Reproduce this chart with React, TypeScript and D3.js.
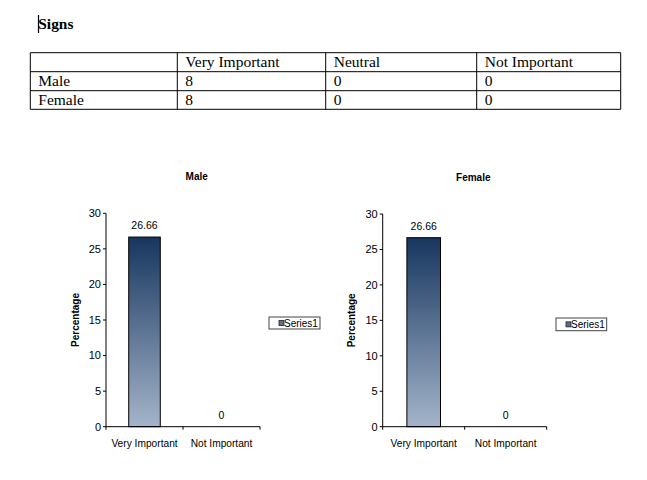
import React from 'react';
import * as d3 from 'd3';

const categories = ['Very Important', 'Not Important'];
const maleValues = [26.66, 0];
const femaleValues = [26.66, 0];
const yTicks = [0, 5, 10, 15, 20, 25, 30];

const tableHeader = ['', 'Very Important', 'Neutral', 'Not Important'];
const tableRowLabels = ['Male', 'Female'];
const tableValues = [
  [8, 0, 0],
  [8, 0, 0],
];

const sans = '"Liberation Sans", Arial, sans-serif';
const serif = '"Liberation Serif", "Times New Roman", serif';

interface PanelProps {
  id: string;
  title: string;
  values: number[];
  left: number;
  right: number;
  top: number;
  bottom: number;
  titleX: number;
  yLabelX: number;
  legend: { x: number; y: number; w: number; h: number };
}

function BarPanel(props: PanelProps) {
  const { id, title, values, left, right, top, bottom, titleX, yLabelX, legend } = props;
  const x = d3
    .scaleBand<string>()
    .domain(categories)
    .range([left, right])
    .paddingInner(0.59)
    .paddingOuter(0.295);
  const y = d3.scaleLinear().domain([0, 30]).range([bottom, top]);
  const step = x.step();
  const gradId = `grad-${id}`;

  return (
    <g>
      <defs>
        <linearGradient id={gradId} x1="0" y1="0" x2="0" y2="1">
          <stop offset="0%" stopColor="#17365f" />
          <stop offset="100%" stopColor="#a4b4ca" />
        </linearGradient>
      </defs>
      <text x={titleX} y={top - 33} textAnchor="middle" fontFamily={sans} fontSize={10} fontWeight="bold">
        {title}
      </text>
      <text
        transform={`translate(${yLabelX + 3.5}, ${(top + bottom) / 2}) rotate(-90)`}
        textAnchor="middle"
        fontFamily={sans}
        fontSize={10}
        fontWeight="bold"
      >
        Percentage
      </text>

      {categories.map((c, i) => {
        const v = values[i];
        const bx = x(c)!;
        const bw = x.bandwidth();
        return (
          <g key={c}>
            {v > 0 && (
              <rect
                x={bx}
                y={y(v)}
                width={bw}
                height={y(0) - y(v)}
                fill={`url(#${gradId})`}
                stroke="#000"
                strokeWidth={1}
              />
            )}
            <text x={bx + bw / 2} y={y(v) - 8} textAnchor="middle" fontFamily={sans} fontSize={10.5}>
              {v}
            </text>
            <text x={bx + bw / 2} y={bottom + 20.5} textAnchor="middle" fontFamily={sans} fontSize={10.2}>
              {c}
            </text>
          </g>
        );
      })}

      {/* axes */}
      <line x1={left} y1={top} x2={left} y2={bottom} stroke="#000" />
      <line x1={left} y1={bottom} x2={right} y2={bottom} stroke="#000" />
      {yTicks.map((t) => (
        <g key={t}>
          <line x1={left - 3} y1={y(t)} x2={left} y2={y(t)} stroke="#000" />
          <text x={left - 5} y={y(t)} dy="0.35em" textAnchor="end" fontFamily={sans} fontSize={11}>
            {t}
          </text>
        </g>
      ))}
      {d3.range(categories.length + 1).map((i) => (
        <line key={i} x1={left + i * step} y1={bottom} x2={left + i * step} y2={bottom + 3} stroke="#000" />
      ))}

      {/* legend */}
      <rect x={legend.x} y={legend.y} width={legend.w} height={legend.h} fill="#fff" stroke="#444" strokeWidth={1} />
      <rect
        x={legend.x + 10}
        y={legend.y + legend.h / 2 - 2.5}
        width={5}
        height={5}
        fill="#5b6f8e"
        stroke="#222"
        strokeWidth={0.8}
      />
      <text x={legend.x + 15} y={legend.y + legend.h / 2} dy="0.36em" fontFamily={sans} fontSize={10}>
        Series1
      </text>
    </g>
  );
}

export default function App() {
  const colEdges = [30.3, 177.3, 325.7, 476.7, 620.7];
  const rowEdges = [52.7, 71.7, 90.7, 109.3];
  const rows = [tableHeader, ...tableRowLabels.map((r, i) => [r, ...tableValues[i].map(String)])];

  return (
    <svg
      width={647}
      height={480}
      style={{ position: 'absolute', left: 0, top: 0, background: '#fff' }}
    >
      <rect x={0} y={0} width={647} height={480} fill="#fff" />
      <line x1={38.5} y1={15} x2={38.5} y2={33} stroke="#000" strokeWidth={1.2} />
      <text x={38.3} y={29} fontFamily={serif} fontSize={15.4} fontWeight="bold">
        Signs
      </text>

      {/* table */}
      <g>
        {rowEdges.map((ry) => (
          <line key={ry} x1={colEdges[0]} y1={ry} x2={colEdges[colEdges.length - 1]} y2={ry} stroke="#000" />
        ))}
        {colEdges.map((cx) => (
          <line key={cx} x1={cx} y1={rowEdges[0]} x2={cx} y2={rowEdges[rowEdges.length - 1]} stroke="#000" />
        ))}
        {rows.map((row, ri) =>
          row.map((cell, ci) => (
            <text
              key={`${ri}-${ci}`}
              x={colEdges[ci] + 8}
              y={rowEdges[ri] + 14}
              fontFamily={serif}
              fontSize={15.5}
            >
              {cell}
            </text>
          ))
        )}
      </g>

      <BarPanel
        id="male"
        title="Male"
        values={maleValues}
        left={106}
        right={260}
        top={213.3}
        bottom={426.7}
        titleX={196.7}
        yLabelX={75.7}
        legend={{ x: 269, y: 317, w: 51, h: 12 }}
      />
      <BarPanel
        id="female"
        title="Female"
        values={femaleValues}
        left={382.7}
        right={546.7}
        top={214}
        bottom={426.7}
        titleX={473.3}
        yLabelX={351.7}
        legend={{ x: 556, y: 318, w: 50.7, h: 12.7 }}
      />
    </svg>
  );
}
